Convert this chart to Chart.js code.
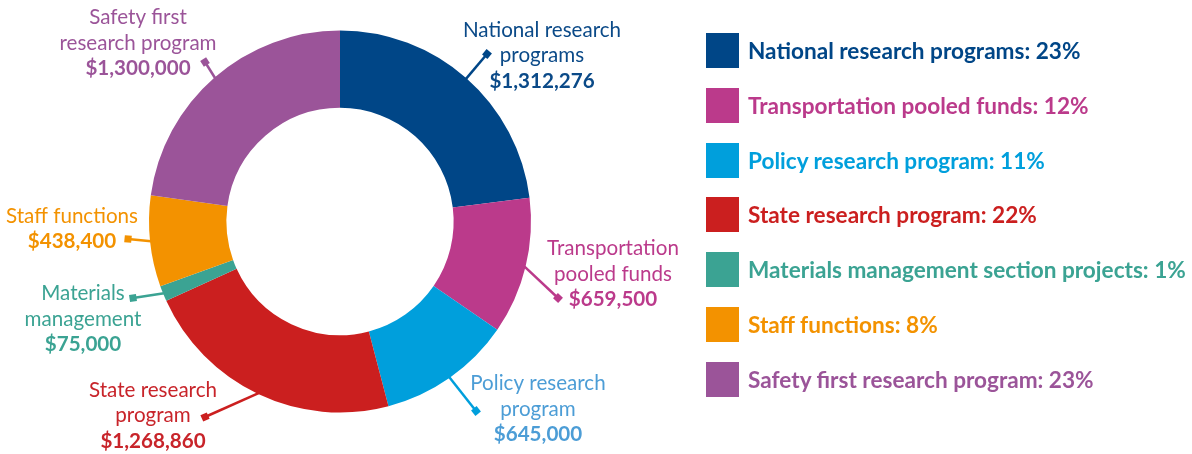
<!DOCTYPE html>
<html>
<head>
<meta charset="utf-8">
<script src="https://cdn.jsdelivr.net/npm/chart.js@4.4.1/dist/chart.umd.min.js"></script>
<style>
    html, body { margin: 0; padding: 0; background: #fff; }
    #wrap { position: relative; width: 1192px; height: 454px; overflow: hidden; }
    #budgetChart { position: absolute; left: 0; top: 0; }
    #legend {
        position: absolute; left: 706px; top: 33px;
        margin: 0; padding: 0; list-style: none;
        font-family: Lato, sans-serif; font-weight: 700;
    }
    #legend li {
        display: flex; align-items: center;
        height: 35px; margin-bottom: 19.8px;
        font-size: 22.6px; white-space: nowrap;
    }
    #legend .box { width: 33px; height: 35px; margin-right: 9px; flex: none; }
</style>
</head>
<body>
<div id="wrap">
    <canvas id="budgetChart" width="1192" height="454"></canvas>
    <ul id="legend"></ul>
</div>
<script>
const categories = [
    'National research programs',
    'Transportation pooled funds',
    'Policy research program',
    'State research program',
    'Materials management section projects',
    'Staff functions',
    'Safety first research program'
];

const amounts = [1312276, 659500, 645000, 1268860, 75000, 438400, 1300000];

// short names used on the callouts next to the ring
const calloutNames = [
    ['National research', 'programs'],
    ['Transportation', 'pooled funds'],
    ['Policy research', 'program'],
    ['State research', 'program'],
    ['Materials', 'management'],
    ['Staff functions'],
    ['Safety first', 'research program']
];

const sliceColors = ['#004687', '#BB3A8B', '#009FDC', '#CB1F1F', '#3BA393', '#F39200', '#9B5499'];
const calloutColors = ['#0B4A88', '#BB3A8B', '#4C9DD6', '#C8242A', '#3BA393', '#F39200', '#9B5499'];

// callout layout, offsets from the ring centre: marker tip, text centre x, first line middle y
const calloutTips = [[147, -167.5], [218, 76.5], [136, 189.5], [-135, 195.5], [-207, 76.5], [-212, 17.5], [-135, -159.5]];
const calloutText = [[202, -191.5], [273, 27], [198, 162], [-187, 168.5], [-257, 72], [-268, -5.5], [-202, -204]];
const lineGap = 25.5;

const total = amounts.reduce((a, b) => a + b, 0);

function formatMoney(v) {
    return '$' + v.toLocaleString('en-US');
}

const calloutPlugin = {
    id: 'callouts',
    afterDatasetsDraw(chart) {
        const ctx = chart.ctx;
        const meta = chart.getDatasetMeta(0);
        meta.data.forEach((arc, i) => {
            const p = arc.getProps(['x', 'y', 'startAngle', 'endAngle', 'outerRadius'], true);
            const mid = (p.startAngle + p.endAngle) / 2;
            const ax = p.x + Math.cos(mid) * (p.outerRadius - 1);
            const ay = p.y + Math.sin(mid) * (p.outerRadius - 1);
            const tx = p.x + calloutTips[i][0];
            const ty = p.y + calloutTips[i][1];
            const color = calloutColors[i];

            ctx.save();
            ctx.strokeStyle = sliceColors[i];
            ctx.fillStyle = sliceColors[i];
            ctx.lineWidth = 2.5;
            ctx.beginPath();
            ctx.moveTo(ax, ay);
            ctx.lineTo(tx, ty);
            ctx.stroke();

            // small square marker turned along the leader line
            ctx.translate(tx, ty);
            ctx.rotate(Math.atan2(ty - ay, tx - ax));
            ctx.fillRect(-3.5, -3.5, 7, 7);
            ctx.restore();

            ctx.save();
            ctx.fillStyle = color;
            ctx.textAlign = 'center';
            ctx.textBaseline = 'middle';
            const cx = p.x + calloutText[i][0];
            let cy = p.y + calloutText[i][1];
            ctx.font = '400 20.6px Lato, sans-serif';
            calloutNames[i].forEach(line => {
                ctx.fillText(line, cx, cy);
                cy += lineGap;
            });
            ctx.font = '700 20.6px Lato, sans-serif';
            ctx.fillText(formatMoney(amounts[i]), cx, cy);
            ctx.restore();
        });
    }
};

function initializeChart() {
    const ctx = document.getElementById('budgetChart');
    return new Chart(ctx, {
        type: 'doughnut',
        data: {
            labels: categories,
            datasets: [{
                data: amounts,
                backgroundColor: sliceColors,
                borderWidth: 0
            }]
        },
        options: {
            responsive: false,
            animation: false,
            cutout: '59.5%',
            layout: {
                padding: { left: 149, right: 661, top: 30.5, bottom: 41.5 }
            },
            plugins: {
                legend: { display: false },
                tooltip: { enabled: false }
            }
        },
        plugins: [calloutPlugin]
    });
}

function buildLegend() {
    const list = document.getElementById('legend');
    categories.forEach((name, i) => {
        const li = document.createElement('li');
        li.style.color = sliceColors[i];
        const box = document.createElement('span');
        box.className = 'box';
        box.style.background = sliceColors[i];
        li.appendChild(box);
        const pct = Math.round(amounts[i] / total * 100);
        li.appendChild(document.createTextNode(name + ': ' + pct + '%'));
        list.appendChild(li);
    });
}

document.addEventListener('DOMContentLoaded', () => {
    buildLegend();
    initializeChart();
});
</script>
</body>
</html>
